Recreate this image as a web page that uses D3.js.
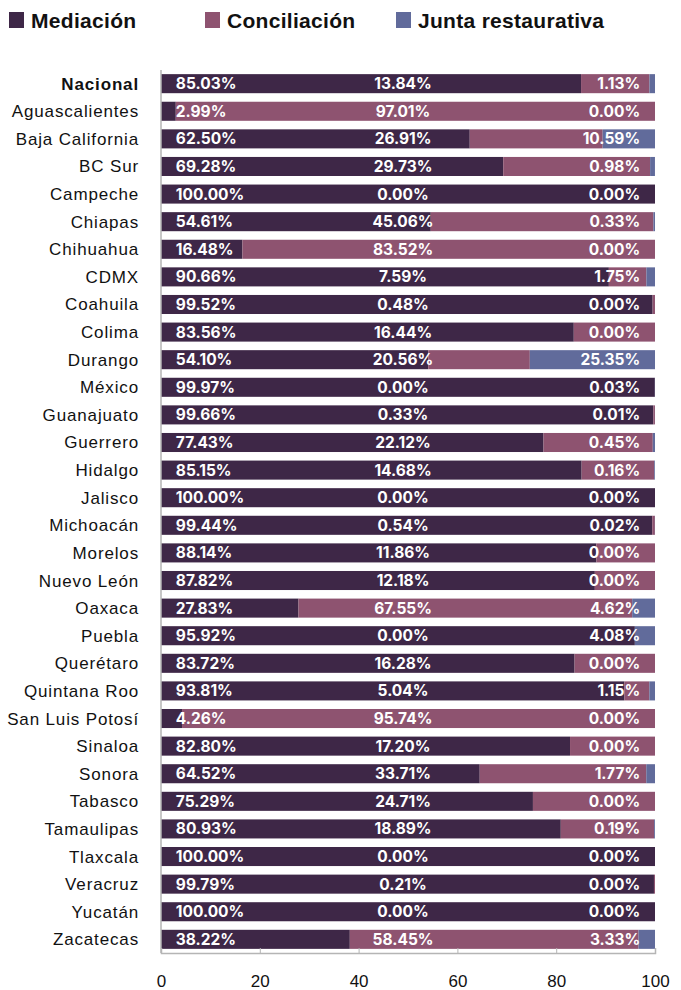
<!DOCTYPE html>
<html>
<head>
<meta charset="utf-8">
<script src="https://cdn.jsdelivr.net/npm/d3@7"></script>
<style>
  html, body { margin: 0; padding: 0; background: #fff; }
  svg { display: block; }
</style>
</head>
<body>
<div id="chart"></div>
<script>
const states = ["Nacional", "Aguascalientes", "Baja California", "BC Sur", "Campeche", "Chiapas",
  "Chihuahua", "CDMX", "Coahuila", "Colima", "Durango", "México", "Guanajuato", "Guerrero",
  "Hidalgo", "Jalisco", "Michoacán", "Morelos", "Nuevo León", "Oaxaca", "Puebla", "Querétaro",
  "Quintana Roo", "San Luis Potosí", "Sinaloa", "Sonora", "Tabasco", "Tamaulipas", "Tlaxcala",
  "Veracruz", "Yucatán", "Zacatecas"];
const mediacion = [85.03, 2.99, 62.50, 69.28, 100.00, 54.61, 16.48, 90.66, 99.52, 83.56, 54.10,
  99.97, 99.66, 77.43, 85.15, 100.00, 99.44, 88.14, 87.82, 27.83, 95.92, 83.72, 93.81, 4.26,
  82.80, 64.52, 75.29, 80.93, 100.00, 99.79, 100.00, 38.22];
const conciliacion = [13.84, 97.01, 26.91, 29.73, 0.00, 45.06, 83.52, 7.59, 0.48, 16.44, 20.56,
  0.00, 0.33, 22.12, 14.68, 0.00, 0.54, 11.86, 12.18, 67.55, 0.00, 16.28, 5.04, 95.74,
  17.20, 33.71, 24.71, 18.89, 0.00, 0.21, 0.00, 58.45];
const junta = [1.13, 0.00, 10.59, 0.98, 0.00, 0.33, 0.00, 1.75, 0.00, 0.00, 25.35,
  0.03, 0.01, 0.45, 0.16, 0.00, 0.02, 0.00, 0.00, 4.62, 4.08, 0.00, 1.15, 0.00,
  0.00, 1.77, 0.00, 0.19, 0.00, 0.00, 0.00, 3.33];
const seriesNames = ["Mediación", "Conciliación", "Junta restaurativa"];
const xTicks = [0, 20, 40, 60, 80, 100];

const colors = ["#3e2747", "#8e5370", "#616b9b"];
const W = 681, H = 990;
const labelFont = '"Liberation Sans", Arial, sans-serif';
const valueFont = 'Inter, "Open Sans", sans-serif';

const rows = states.map((s, i) => ({ state: s, values: [mediacion[i], conciliacion[i], junta[i]] }));

const svg = d3.select("#chart").append("svg").attr("width", W).attr("height", H);

const x = d3.scaleLinear().domain([0, 100]).range([161, 655]);
const y = d3.scaleBand().domain(states).range([70, 953]).paddingInner(0.31).paddingOuter(0.15);

// legend
const leg = svg.append("g");
const legX = [9, 205, 396];
seriesNames.forEach((name, i) => {
  leg.append("rect").attr("x", legX[i]).attr("y", 12).attr("width", 15).attr("height", 16).attr("fill", colors[i]);
  leg.append("text").attr("x", legX[i] + 22).attr("y", 28)
    .attr("font-family", labelFont).attr("font-weight", "bold").attr("font-size", 21)
    .attr("letter-spacing", 0.3)
    .attr("fill", "#111").text(name);
});

// bars
const rowG = svg.selectAll("g.row").data(rows).enter().append("g").attr("class", "row")
  .attr("transform", d => `translate(0,${y(d.state)})`);

rowG.each(function(d) {
  const g = d3.select(this);
  let acc = 0;
  d.values.forEach((v, i) => {
    const x0 = x(acc), x1 = x(Math.min(100, acc + v));
    g.append("rect").attr("x", x0).attr("y", 0).attr("width", Math.max(0, x1 - x0))
      .attr("height", y.bandwidth()).attr("fill", colors[i]);
    acc += v;
  });
  const ty = y.bandwidth() / 2 + 5.5;
  const pos = [[x(3), "start"], [x(49), "middle"], [x(97), "end"]];
  d.values.forEach((v, i) => {
    g.append("text").attr("x", pos[i][0]).attr("y", ty).attr("text-anchor", pos[i][1])
      .attr("font-family", valueFont).attr("font-weight", "bold").attr("font-size", 15.5)
      .attr("fill", "#fff").text(v.toFixed(2) + "%");
  });
});

// category labels
svg.append("g").selectAll("text").data(states).enter().append("text")
  .attr("x", 139).attr("y", d => y(d) + y.bandwidth() / 2 + 6)
  .attr("text-anchor", "end")
  .attr("font-family", labelFont).attr("font-size", 17)
  .attr("letter-spacing", 0.85)
  .attr("font-weight", d => d === "Nacional" ? "bold" : "normal")
  .attr("fill", "#111").text(d => d);

// axes
svg.append("line").attr("x1", x(0)).attr("x2", x(0)).attr("y1", 70).attr("y2", 953)
  .attr("stroke", "#b5b5b5").attr("stroke-width", 1.5);

const xAxis = svg.append("g").attr("transform", "translate(0,953)")
  .call(d3.axisBottom(x).tickValues(xTicks).tickSize(-5).tickPadding(22).tickFormat(d3.format("d")));
xAxis.select(".domain").attr("stroke", "#b5b5b5").attr("stroke-width", 1.5);
xAxis.selectAll(".tick line").attr("stroke", "#b5b5b5");
xAxis.selectAll("text").attr("font-family", labelFont).attr("font-size", 17).attr("fill", "#111");
</script>
</body>
</html>
